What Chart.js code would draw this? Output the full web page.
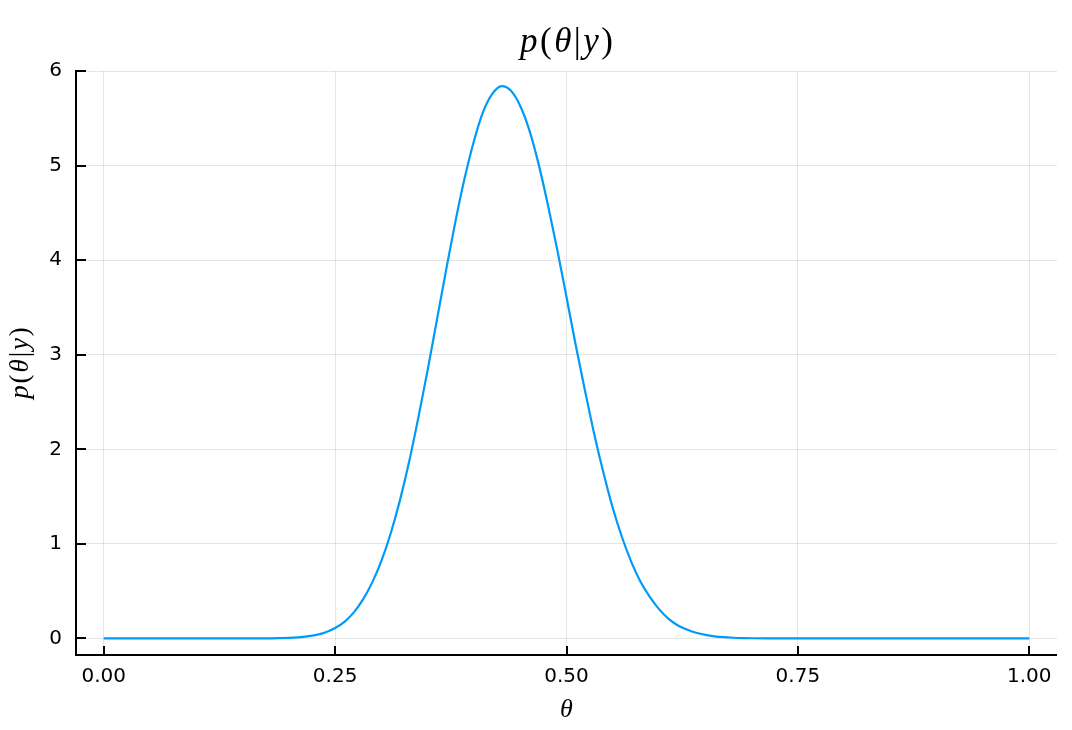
<!DOCTYPE html>
<html>
<head>
<meta charset="utf-8">
<script src="https://cdn.jsdelivr.net/npm/chart.js@4.4.1/dist/chart.umd.min.js"></script>
<style>
  body { margin: 0; background: #fff; }
  canvas { display: block; }
</style>
</head>
<body>
<canvas id="mycanvas" width="1072" height="730"></canvas>
<script>
// theta grid and posterior density
var theta = [0, 0.05, 0.10, 0.15, 0.17, 0.18, 0.19, 0.20, 0.21, 0.22, 0.23, 0.24, 0.25, 0.26, 0.27, 0.28, 0.29,
  0.30, 0.31, 0.32, 0.33, 0.34, 0.35, 0.36, 0.37, 0.38, 0.39, 0.40, 0.41, 0.42, 0.43, 0.44, 0.45, 0.46, 0.47,
  0.48, 0.49, 0.50, 0.51, 0.52, 0.53, 0.54, 0.55, 0.56, 0.57, 0.58, 0.59, 0.60, 0.61, 0.62, 0.63, 0.64, 0.65,
  0.66, 0.67, 0.68, 0.69, 0.70, 0.72, 0.75, 0.80, 0.85, 0.90, 0.95, 1.00];
var density = [0, 0, 0, 0.0001, 0.0005, 0.0012, 0.0026, 0.0053, 0.011, 0.021, 0.038, 0.066, 0.11, 0.176, 0.273, 0.41, 0.59,
  0.82, 1.11, 1.46, 1.87, 2.34, 2.84, 3.37, 3.90, 4.41, 4.87, 5.26, 5.57, 5.76, 5.84, 5.79, 5.63, 5.37, 5.01,
  4.58, 4.11, 3.61, 3.10, 2.62, 2.16, 1.75, 1.38, 1.07, 0.81, 0.60, 0.44, 0.31, 0.21, 0.14, 0.094, 0.060, 0.037,
  0.022, 0.013, 0.0075, 0.004, 0.002, 0.0005, 0, 0, 0, 0, 0, 0];

var xTicks = [0, 0.25, 0.5, 0.75, 1];
var yTicks = [0, 1, 2, 3, 4, 5, 6];

var points = [];
for (var i = 0; i < theta.length; i++) {
  points.push({x: theta[i], y: density[i]});
}

// draws p(θ|y) with italic letters and upright brackets
function mathText(ctx, parts, cx, cy, size) {
  var total = 0;
  var gap = size * 0.07;
  parts.forEach(function(p) {
    ctx.font = (p[1] ? 'italic ' : '') + size + 'px "Liberation Serif"';
    p.w = ctx.measureText(p[0]).width;
    total += p.w + gap;
  });
  total -= gap;
  var x = cx - total / 2;
  ctx.textAlign = 'left';
  ctx.textBaseline = 'alphabetic';
  ctx.fillStyle = '#000';
  parts.forEach(function(p) {
    ctx.font = (p[1] ? 'italic ' : '') + size + 'px "Liberation Serif"';
    ctx.fillText(p[0], x, cy);
    x += p.w + gap;
  });
}

function label() {
  return [['p', true], ['(', false], ['θ', true], ['|', false], ['y', true], [')', false]];
}

var decor = {
  id: 'decor',
  afterDraw: function(chart) {
    var ctx = chart.ctx;
    var a = chart.chartArea;
    var xs = chart.scales.x, ys = chart.scales.y;
    ctx.save();
    // axis lines
    ctx.strokeStyle = '#000';
    ctx.lineWidth = 2;
    ctx.beginPath();
    ctx.moveTo(a.left, a.top - 1);
    ctx.lineTo(a.left, a.bottom);
    ctx.lineTo(a.right, a.bottom);
    ctx.stroke();
    // inward ticks
    ctx.beginPath();
    xTicks.forEach(function(v) {
      var px = Math.round(xs.getPixelForValue(v));
      ctx.moveTo(px, a.bottom);
      ctx.lineTo(px, a.bottom - 9);
    });
    yTicks.forEach(function(v) {
      var py = Math.round(ys.getPixelForValue(v));
      ctx.moveTo(a.left, py);
      ctx.lineTo(a.left + 10, py);
    });
    ctx.stroke();

    // title
    mathText(ctx, label(), (a.left + a.right) / 2, 52, 35);
    // x label
    mathText(ctx, [['θ', true]], (a.left + a.right) / 2, 717, 26);
    // y label
    ctx.translate(28, (a.top + a.bottom) / 2);
    ctx.rotate(-Math.PI / 2);
    mathText(ctx, label(), 0, 0, 27);
    ctx.restore();
  }
};

var ctx = document.getElementById('mycanvas');
var chart = new Chart(ctx, {
  type: 'scatter',
  data: {
    datasets: [{
      label: 'y1',
      data: points,
      showLine: true,
      borderColor: '#009AFA',
      borderWidth: 2.2,
      pointRadius: 0,
      cubicInterpolationMode: 'monotone',
      fill: false
    }]
  },
  options: {
    responsive: false,
    animation: false,
    layout: { padding: { top: 71, right: 15, left: 0, bottom: 0 } },
    plugins: {
      legend: { display: false },
      tooltip: { enabled: false },
      title: { display: false }
    },
    scales: {
      x: {
        type: 'linear',
        min: -0.03,
        max: 1.03,
        afterBuildTicks: function(s) { s.ticks = xTicks.map(function(v) { return {value: v}; }); },
        afterFit: function(s) { s.height = 75; },
        grid: { color: 'rgba(0,0,0,0.1)', lineWidth: 1, drawTicks: false },
        border: { display: false },
        ticks: {
          padding: 10,
          color: '#000',
          maxRotation: 0,
          font: { family: 'DejaVu Sans', size: 20 },
          callback: function(v) { return v.toFixed(2); }
        }
      },
      y: {
        min: -0.175,
        max: 6,
        afterBuildTicks: function(s) { s.ticks = yTicks.map(function(v) { return {value: v}; }); },
        afterFit: function(s) { s.width = 76; },
        grid: { color: 'rgba(0,0,0,0.1)', lineWidth: 1, drawTicks: false },
        border: { display: false },
        ticks: {
          padding: 14,
          color: '#000',
          font: { family: 'DejaVu Sans', size: 20 }
        }
      }
    }
  },
  plugins: [decor]
});
</script>
</body>
</html>
